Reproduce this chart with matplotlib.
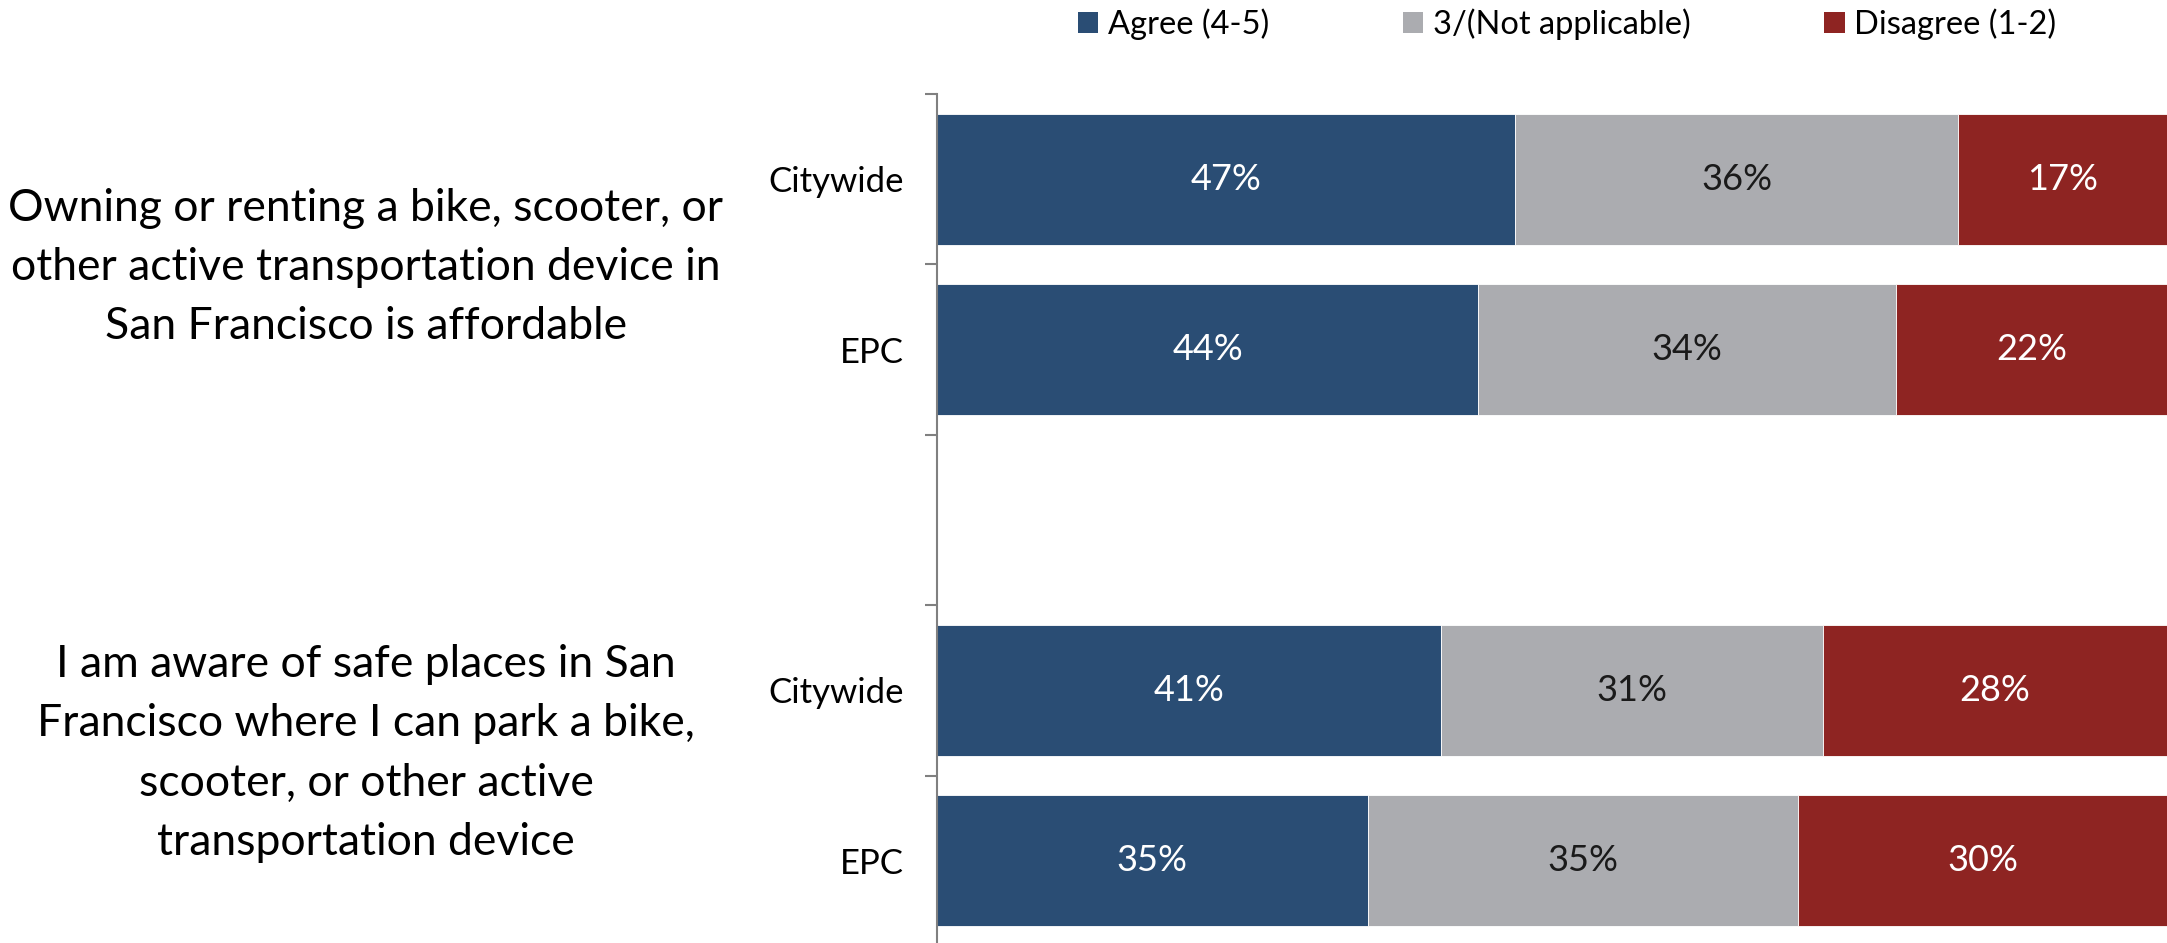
import matplotlib
matplotlib.use("Agg")
import matplotlib.pyplot as plt
from matplotlib.patches import Patch
from matplotlib.transforms import blended_transform_factory

# ===============================
# DATA
# ===============================
rows = ["Citywide", "EPC", "", "Citywide", "EPC"]
agree = [47, 44, None, 41, 35]
neutral = [36, 34, None, 31, 35]
disagree = [17, 22, None, 28, 30]
series_names = ["Agree (4-5)", "3/(Not applicable)", "Disagree (1-2)"]
questions = [
    "Owning or renting a bike, scooter, or\nother active transportation device in\nSan Francisco is affordable",
    "I am aware of safe places in San\nFrancisco where I can park a bike,\nscooter, or other active\ntransportation device",
]

COLORS = ["#2A4D74", "#ABACB0", "#8E2422"]
TEXT_COLORS = ["white", "#1a1a1a", "white"]

plt.rcParams["font.family"] = ["Lato", "DejaVu Sans"]

W, H = 2167, 943
fig = plt.figure(figsize=(W / 100, H / 100), dpi=100)
ax = fig.add_axes([937 / W, -3 / H, (W - 937) / W, (946 - 94) / H])

# ===============================
# STACKED BARS
# ===============================
for i in range(len(rows)):
    if agree[i] is None:
        continue
    left = 0
    for j, vals in enumerate([agree, neutral, disagree]):
        v = vals[i]
        ax.barh(i, v, left=left, height=0.77, color=COLORS[j],
                edgecolor="white", linewidth=0.6)
        ax.text(left + v / 2, i, f"{v}%", ha="center", va="center",
                fontsize=26, color=TEXT_COLORS[j])
        left += v

ax.set_xlim(0, 100)
ax.set_ylim(len(rows) - 0.5, -0.5)

# ===============================
# AXES STYLE
# ===============================
for s in ["top", "right", "bottom"]:
    ax.spines[s].set_visible(False)
ax.spines["left"].set_color("#808080")
ax.spines["left"].set_linewidth(1.5)
ax.set_xticks([])

ax.set_yticks(range(len(rows)))
ax.set_yticklabels(rows, fontsize=25)
ax.tick_params(axis="y", which="major", length=0, pad=24)
ax.set_yticks([i - 0.5 for i in range(len(rows) + 1)], minor=True)
ax.tick_params(axis="y", which="minor", length=9, width=1.5, color="#808080")

# question labels
trans = blended_transform_factory(fig.transFigure, ax.transData)
ax.text(366 / W, 0.52, questions[0], transform=trans, ha="center", va="center",
        fontsize=32, linespacing=1.55)
ax.text(366 / W, 3.37, questions[1], transform=trans, ha="center", va="center",
        fontsize=32, linespacing=1.55)

# legend
handles = [Patch(facecolor=c, edgecolor="none") for c in COLORS]
fig.legend(handles, series_names, loc="center", bbox_to_anchor=(1567 / W, 1 - 24 / H),
           ncol=3, frameon=False, fontsize=23.5, handlelength=0.62, handleheight=0.62,
           handletextpad=0.3, columnspacing=4.1, borderaxespad=0)

plt.savefig("out.png", dpi=100)
